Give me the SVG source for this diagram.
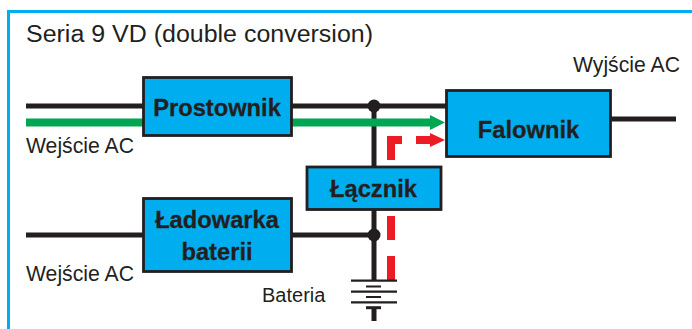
<svg xmlns="http://www.w3.org/2000/svg" width="692" height="329" viewBox="0 0 692 329">
<style>
text{font-family:"Liberation Sans",Arial,sans-serif;fill:#231f20}
.t{font-size:21.200px}
.b{font-size:23.700px;font-weight:bold;text-anchor:middle;stroke:#231f20;stroke-width:.3}
.box{fill:#00aeef;stroke:#231f20;stroke-width:2.800}
.w{fill:none;stroke:#231f20;stroke-width:5}
.bat{fill:none;stroke:#231f20;stroke-width:2.200}
.g{fill:#00a651}
.r{fill:#ed1c24}
</style>
<rect width="692" height="329" fill="#fff"/>
<path d="M692 11.500H8.500V329" fill="none" stroke="#00aeef" stroke-width="3"/>
<text x="26" y="42" textLength="347" lengthAdjust="spacingAndGlyphs" style="font-size:23px">Seria 9 VD (double conversion)</text>
<g id="connectors">
<path class="w" d="M26 106H144M291 106H447M26 235H144M291 235H374M611 119H676M374 106V168M374 209V281M374 307V321"/>
<rect class="g" x="26" y="118.500" width="118" height="8"/>
<path class="g" d="M291 118.500H430V115L445 122.500L430 130V126.500H291Z"/>
<path class="r" d="M387 136H402V144H395V160H387ZM416 136H430V133L445 140L430 147V144H416ZM387 216H395V240H387ZM387 256H395V280H387Z"/>
<circle cx="374" cy="106" r="6.500" fill="#231f20"/>
<circle cx="374" cy="235" r="6.500" fill="#231f20"/>
</g>
<g id="prostownik"><rect class="box" x="143.500" y="77.500" width="148" height="58"/><text class="b" x="217" y="115.700">Prostownik</text></g>
<g id="falownik"><rect class="box" x="446.500" y="90.500" width="164" height="66"/><text class="b" x="528.500" y="137.700">Falownik</text></g>
<g id="lacznik"><rect class="box" x="307" y="167" width="134" height="42.500"/><text class="b" x="373.500" y="197.300">Łącznik</text></g>
<g id="ladowarka"><rect class="box" x="143.500" y="198.500" width="148" height="73"/><text class="b" x="217" y="228.300">Ładowarka</text><text class="b" x="217" y="260">baterii</text></g>
<g id="bateria">
<path class="bat" d="M351 280.700H397M366 286.500H381M351 291.700H397M366 297H381M351 302.300H397"/>
<path class="w" style="stroke-width:3" d="M366 307.700H381"/>
</g>
<text class="t" x="26" y="152.500">Wejście AC</text>
<text class="t" x="26" y="281">Wejście AC</text>
<text class="t" x="573" y="72">Wyjście AC</text>
<text x="262" y="301.700" style="font-size:20px">Bateria</text>
</svg>
